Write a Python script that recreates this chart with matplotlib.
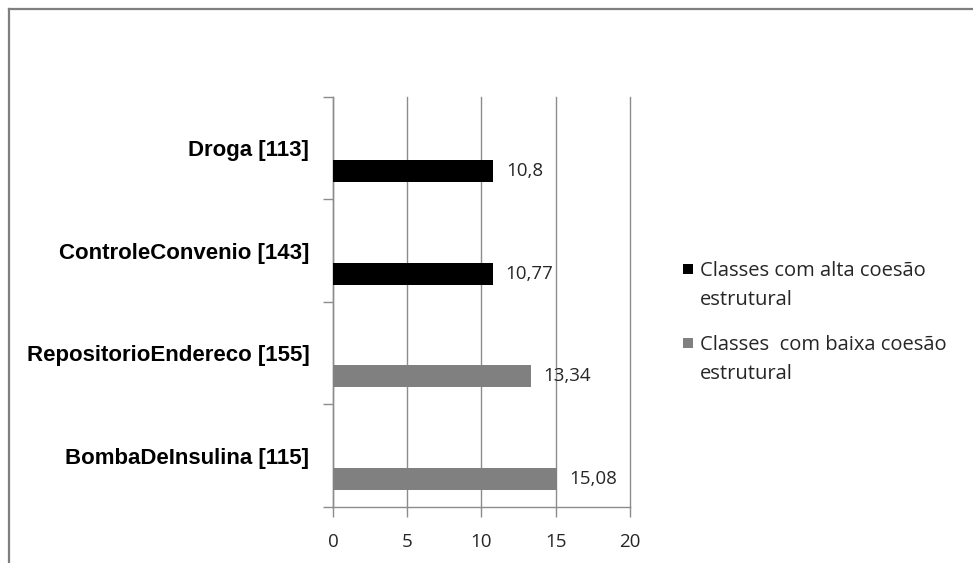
import numpy as np
import matplotlib.pyplot as plt
from matplotlib.lines import Line2D
from matplotlib.patches import Rectangle

# Classes (with LOC) and their cohesion metric, split by structural cohesion group
classes = ['Droga [113]', 'ControleConvenio [143]', 'RepositorioEndereco [155]', 'BombaDeInsulina [115]']
alta_coesao = [10.8, 10.77, 0, 0]
baixa_coesao = [0, 0, 13.34, 15.08]
labels_alta = 'Classes com alta coesão\nestrutural'
labels_baixa = 'Classes  com baixa coesão\nestrutural'
x_ticks = [0, 5, 10, 15, 20]

grid_color = '#8c8c8c'
text_color = '#262626'
alta_color = 'black'
baixa_color = '#808080'

fig = plt.figure(figsize=(9.73, 5.63), dpi=100)
ax = fig.add_axes([0.3422, 0.0995, 0.3053, 0.7282])

pos = np.arange(len(classes))
bar_h = 0.215
offset = 0.224

for i in range(len(classes)):
    if alta_coesao[i] > 0:
        val, col = alta_coesao[i], alta_color
    else:
        val, col = baixa_coesao[i], baixa_color
    ax.barh(pos[i] + offset, val, height=bar_h, color=col, zorder=3)
    txt = f'{val:g}'.replace('.', ',')
    ax.annotate(txt, (val, pos[i] + offset), xytext=(9, 0), textcoords='offset points',
                va='center', ha='left', fontsize=13.5, family='Open Sans', color=text_color, zorder=4)

ax.set_xlim(0, 20)
ax.set_ylim(len(classes) - 0.5, -0.5)

# x axis: values
ax.set_xticks(x_ticks)
ax.set_xticklabels([str(t) for t in x_ticks], fontsize=13.5, family='Open Sans', color=text_color)
ax.tick_params(axis='x', length=7, width=1, color=grid_color, pad=12)
ax.xaxis.grid(True, color=grid_color, linewidth=1, zorder=0)
for gl in ax.get_xgridlines():
    gl.set_clip_on(False)

# y axis: ticks at band edges, labels at band centers
ax.set_yticks(np.arange(len(classes) + 1) - 0.5)
ax.set_yticklabels([])
ax.tick_params(axis='y', which='major', length=7, width=1, color=grid_color)
ax.set_yticks(pos, minor=True)
ax.set_yticklabels(classes, minor=True, fontsize=16, family='Liberation Sans',
                   fontweight='bold', color='black')
ax.tick_params(axis='y', which='minor', length=0, pad=17)

for s in ['top', 'right']:
    ax.spines[s].set_visible(False)
for s in ['left', 'bottom']:
    ax.spines[s].set_color(grid_color)
    ax.spines[s].set_linewidth(1)

# legend, drawn by hand so the swatch sits on the first line of each label
W, H = 973, 563
for y_px, col, lab in [(269, alta_color, labels_alta), (343, baixa_color, labels_baixa)]:
    fig.add_artist(Rectangle((683 / W, 1 - (y_px + 5) / H), 10 / W, 10 / H,
                             transform=fig.transFigure, facecolor=col, edgecolor='none'))
    fig.text(700 / W, 1 - (y_px - 8) / H, lab, ha='left', va='top', fontsize=14.5,
             family='Open Sans', color=text_color, linespacing=1.6)

# outer frame (top and left edges)
fig.add_artist(Line2D([0.0093, 0.0093], [0, 0.984], transform=fig.transFigure,
                      color='#7f7f7f', linewidth=1.6))
fig.add_artist(Line2D([0.0093, 1.0], [0.984, 0.984], transform=fig.transFigure,
                      color='#7f7f7f', linewidth=1.6))

fig.savefig('out.png', dpi=100)
